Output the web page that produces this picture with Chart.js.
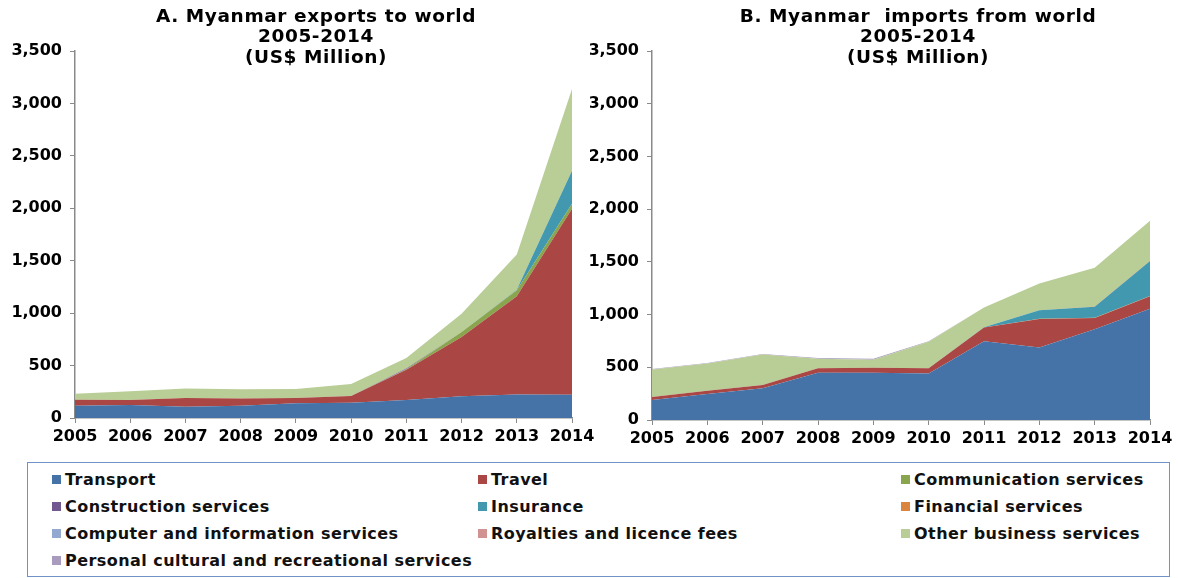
<!DOCTYPE html>
<html>
<head>
<meta charset="utf-8">
<script src="https://cdn.jsdelivr.net/npm/chart.js@4/dist/chart.umd.min.js"></script>
<style>
  html, body { margin: 0; padding: 0; background: #fff; overflow: hidden; }
  body { width: 1178px; height: 578px; position: relative; font-family: "DejaVu Sans", Verdana, sans-serif; }
  canvas { position: absolute; }
  #legend {
    position: absolute; left: 27px; top: 462px; width: 1141px; height: 113px;
    border: 1px solid #6f93c6; box-sizing: content-box;
  }
  .item { position: absolute; font-weight: bold; font-size: 16px; letter-spacing: 0.45px; color: #111; white-space: nowrap; line-height: 18px; }
  .item i { display: inline-block; width: 9px; height: 9px; margin-right: 4px; vertical-align: 1px; }
</style>
</head>
<body>
<canvas id="exp"></canvas>
<canvas id="imp"></canvas>
<div id="legend"></div>
<script>
// Years on the category axis
const years = ['2005', '2006', '2007', '2008', '2009', '2010', '2011', '2012', '2013', '2014'];

// Service categories, bottom of the stack first
const seriesNames = [
  'Transport', 'Travel', 'Communication services',
  'Construction services', 'Insurance', 'Financial services',
  'Computer and information services', 'Royalties and licence fees', 'Other business services',
  'Personal cultural and recreational services'
];
const seriesColors = [
  '#4572A7', '#AA4643', '#89A54E',
  '#71588F', '#4198AF', '#DB843D',
  '#93A9CF', '#D19392', '#B9CD96',
  '#A99BBD'
];

// A. Exports to world (US$ million)
const exTransport     = [118, 124, 107, 118, 140, 146, 172, 207, 223, 221];
const exTravel        = [57, 47, 83, 68, 50, 64, 287, 565, 938, 1775];
const exCommunication = [0, 0, 0, 0, 0, 0, 5, 48, 58, 48];
const exConstruction  = [0, 0, 0, 0, 0, 0, 8, 0, 0, 0];
const exInsurance     = [0, 0, 0, 0, 0, 0, 0, 0, 5, 313];
const exFinancial     = [0, 0, 0, 0, 0, 0, 0, 0, 0, 0];
const exComputer      = [0, 0, 0, 0, 0, 0, 0, 0, 0, 0];
const exRoyalties     = [0, 0, 0, 0, 0, 0, 0, 0, 0, 0];
const exOtherBusiness = [57, 83, 92, 87, 86, 115, 101, 175, 336, 780];
const exPersonal      = [0, 0, 0, 0, 0, 0, 0, 0, 0, 0];

// B. Imports from world (US$ million)
const imTransport     = [190, 246, 300, 448, 448, 442, 747, 687, 860, 1055];
const imTravel        = [28, 32, 32, 42, 48, 48, 131, 270, 108, 118];
const imCommunication = [0, 0, 0, 0, 0, 0, 0, 3, 3, 4];
const imConstruction  = [0, 0, 0, 0, 0, 0, 0, 0, 0, 0];
const imInsurance     = [0, 0, 0, 0, 0, 0, 2, 80, 103, 330];
const imFinancial     = [0, 0, 0, 0, 0, 0, 0, 2, 3, 3];
const imComputer      = [0, 0, 0, 0, 0, 0, 0, 0, 0, 0];
const imRoyalties     = [0, 0, 0, 0, 0, 0, 0, 0, 0, 0];
const imOtherBusiness = [262, 258, 290, 91, 75, 252, 188, 253, 366, 379];
const imPersonal      = [4, 4, 4, 7, 10, 6, 0, 0, 0, 0];

// Value axis
const yMin = 0, yMax = 3500, yStep = 500;

const exportSeries = [exTransport, exTravel, exCommunication, exConstruction, exInsurance,
  exFinancial, exComputer, exRoyalties, exOtherBusiness, exPersonal];
const importSeries = [imTransport, imTravel, imCommunication, imConstruction, imInsurance,
  imFinancial, imComputer, imRoyalties, imOtherBusiness, imPersonal];

const FONT = '"DejaVu Sans", Verdana, sans-serif';
const AXIS = '#8a8a8a';

// Title lines drawn over the top of the plot, as in the original layout
const overlayTitle = {
  id: 'overlayTitle',
  afterDraw(chart, args, opts) {
    const ctx = chart.ctx;
    ctx.save();
    ctx.font = 'bold 18.5px ' + FONT;
    if ('letterSpacing' in ctx) ctx.letterSpacing = '0.6px';
    ctx.fillStyle = '#000';
    ctx.textAlign = 'center';
    ctx.textBaseline = 'middle';
    opts.lines.forEach((t, i) => ctx.fillText(t, opts.x, opts.y + i * 20.5));
    ctx.restore();
  }
};

function buildChart(id, box, series, titleLines, titleX) {
  const cv = document.getElementById(id);
  cv.style.left = box.left + 'px';
  cv.style.top = '0px';
  cv.width = box.width; cv.height = box.height;
  cv.style.width = box.width + 'px'; cv.style.height = box.height + 'px';

  const datasets = series.map((data, i) => ({
    label: seriesNames[i],
    data: data,
    backgroundColor: seriesColors[i],
    borderColor: seriesColors[i],
    borderWidth: 0,
    pointRadius: 0,
    tension: 0,
    fill: i === 0 ? 'origin' : '-1'
  }));

  return new Chart(cv, {
    type: 'line',
    data: { labels: years, datasets },
    plugins: [overlayTitle],
    options: {
      responsive: false,
      animation: false,
      events: [],
      layout: { padding: { left: 0, right: box.padRight, top: box.plotTop, bottom: box.height - box.plotBottom - 34 } },
      plugins: {
        legend: { display: false },
        title: { display: false },
        tooltip: { enabled: false },
        filler: { propagate: false },
        overlayTitle: { lines: titleLines, x: titleX - box.left, y: 17 }
      },
      scales: {
        x: {
          offset: false,
          grid: { drawOnChartArea: false, color: AXIS, tickLength: 5, lineWidth: 1 },
          border: { color: AXIS, width: 1.5 },
          ticks: { color: '#000', font: { family: FONT, size: 16, weight: 'bold' }, padding: 4, maxRotation: 0, autoSkip: false },
          afterFit(s) { s.height = 34; }
        },
        y: {
          stacked: true,
          min: yMin, max: yMax,
          grid: { drawOnChartArea: false, color: AXIS, tickLength: 5, lineWidth: 1 },
          border: { color: AXIS, width: 1.5 },
          ticks: {
            stepSize: yStep,
            color: '#000',
            font: { family: FONT, size: 16, weight: 'bold' },
            padding: 8,
            callback: v => v.toLocaleString('en-US')
          },
          afterFit(s) { s.width = box.axisWidth; }
        }
      }
    }
  });
}

buildChart('exp',
  { left: 0, width: 632, height: 452, plotTop: 51, plotBottom: 418, padRight: 60, axisWidth: 75 },
  exportSeries, ['A. Myanmar exports to world', '2005-2014', '(US$ Million)'], 316);

buildChart('imp',
  { left: 590, width: 656, height: 452, plotTop: 51, plotBottom: 420, padRight: 96, axisWidth: 62 },
  importSeries, ['B. Myanmar  imports from world', '2005-2014', '(US$ Million)'], 918);

// Legend: three columns, filled row by row
const legend = document.getElementById('legend');
const colText = [65, 491, 914];
seriesNames.forEach((name, i) => {
  const row = Math.floor(i / 3), col = i % 3;
  const el = document.createElement('div');
  el.className = 'item';
  el.style.left = (colText[col] - 13 - 28) + 'px';
  el.style.top = (480 - 9 + row * 27 - 463) + 'px';
  const sw = document.createElement('i');
  sw.style.background = seriesColors[i];
  el.appendChild(sw);
  el.appendChild(document.createTextNode(name));
  legend.appendChild(el);
});
</script>
</body>
</html>
